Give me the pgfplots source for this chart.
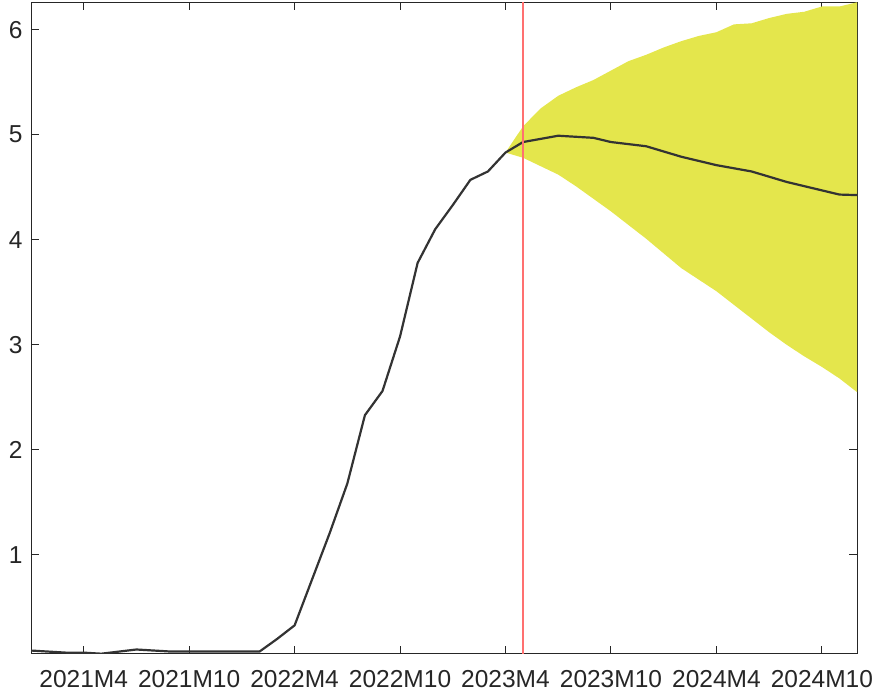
\documentclass[border=0pt]{standalone}
\usepackage{pgfplots}
\pgfplotsset{compat=1.18}
\usepackage{fontspec}
\setmainfont{Liberation Sans}
\definecolor{axcol}{RGB}{38,38,38}
\definecolor{bandcol}{RGB}{228,230,76}
\definecolor{linecol}{RGB}{51,51,51}
\definecolor{redcol}{RGB}{255,112,112}
\begin{document}
\begin{tikzpicture}
\begin{axis}[
  scale only axis, width=826bp, height=651.4bp,
  xmin=0, xmax=47, ymin=0.06, ymax=6.26,
  axis line style={draw=axcol, line width=1bp},
  tick style={draw=axcol, line width=1bp},
  major tick length=8bp, tick align=inside,
  xtick={3,9,15,21,27,33,39,45},
  xticklabels={2021M4,2021M10,2022M4,2022M10,2023M4,2023M10,2024M4,2024M10},
  ytick={1,2,3,4,5,6},
  ticklabel style={font=\fontsize{24.5bp}{29bp}\selectfont, text=axcol},
  xticklabel style={yshift=-13bp},
  yticklabel style={xshift=-5bp},
  /pgf/number format/assume math mode=true,
  clip=true,
]
% uncertainty band (upper edge, then lower edge reversed)
\addplot[fill=bandcol, draw=none] coordinates {
 (27,4.83) (28,5.08) (29,5.25) (30,5.37) (31,5.45) (32,5.52) (33,5.61)
 (34,5.70) (35,5.76) (36,5.83) (37,5.89) (38,5.94) (39,5.975) (40,6.05)
 (41,6.06) (42,6.11) (43,6.15) (44,6.17) (45,6.22) (46,6.22) (47,6.26)
 (47,2.55) (46,2.68) (45,2.79) (44,2.89) (43,3.00) (42,3.12) (41,3.25)
 (40,3.38) (39,3.51) (38,3.62) (37,3.73) (36,3.87) (35,4.01) (34,4.14)
 (33,4.27) (32,4.39) (31,4.51) (30,4.62) (29,4.70) (28,4.78) (27,4.83)
} -- cycle;
% history and forecast line
\addplot[draw=linecol, line width=2.2bp] coordinates {
 (0,0.09) (1,0.08) (2,0.07) (3,0.07) (4,0.06) (5,0.08) (6,0.10) (7,0.09)
 (8,0.08) (9,0.08) (10,0.08) (11,0.08) (12,0.08) (13,0.08) (14,0.20)
 (15,0.33) (16,0.77) (17,1.21) (18,1.68) (19,2.33) (20,2.56) (21,3.08)
 (22,3.78) (23,4.10) (24,4.33) (25,4.57) (26,4.65) (27,4.83)
 (28,4.93) (29,4.96) (30,4.99) (31,4.98) (32,4.97) (33,4.93) (34,4.91)
 (35,4.89) (36,4.84) (37,4.79) (38,4.75) (39,4.71) (40,4.68) (41,4.65)
 (42,4.60) (43,4.55) (44,4.51) (45,4.47) (46,4.43) (47,4.425)
};
% forecast start marker
\addplot[draw=redcol, line width=1.8bp] coordinates {(28,0.06) (28,6.26)};
\end{axis}
\pgfresetboundingbox
\path[use as bounding box] (-31bp,-42.3bp) rectangle (844bp,653.7bp);
\end{tikzpicture}
\end{document}
